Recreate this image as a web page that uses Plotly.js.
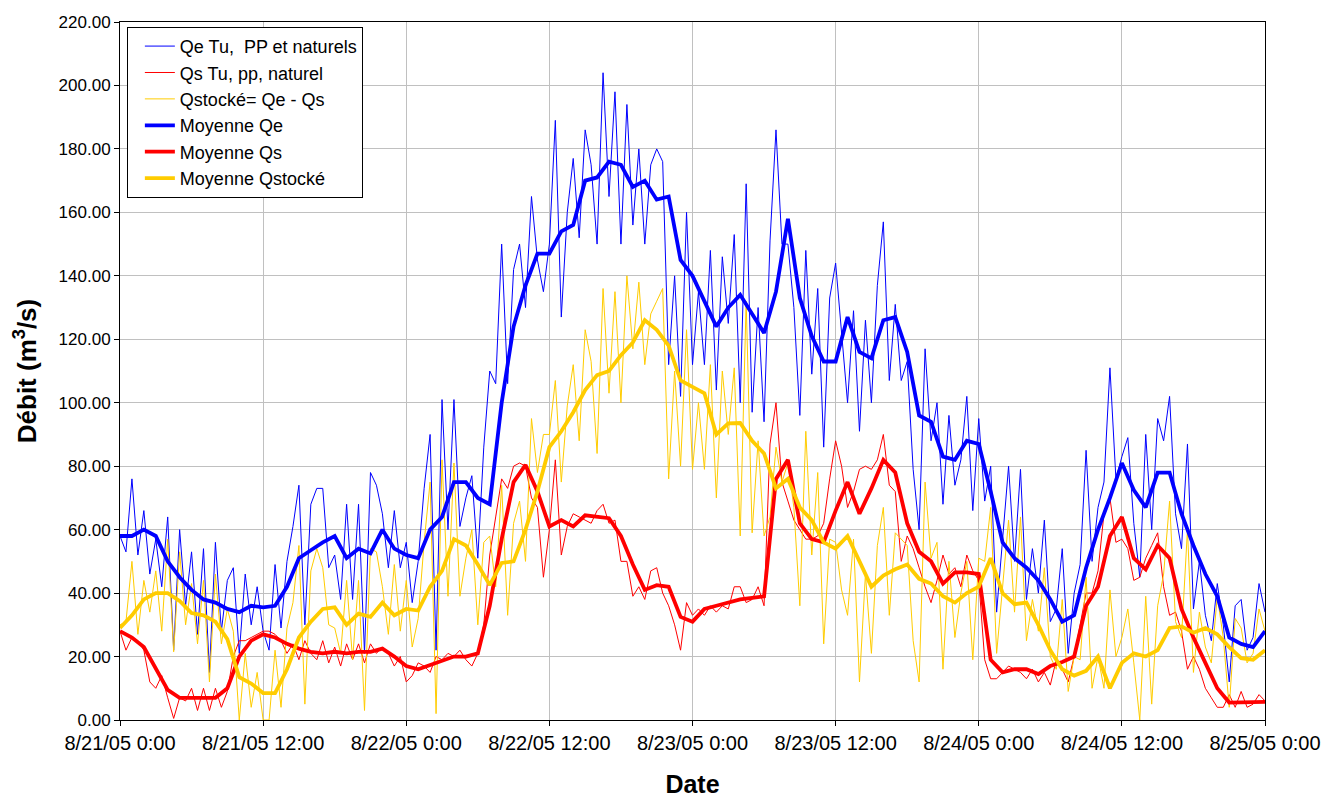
<!DOCTYPE html>
<html>
<head>
<meta charset="utf-8">
<script src="https://cdn.plot.ly/plotly-3.0.1.min.js"></script>
<style>html,body{margin:0;padding:0;background:#fff;}#chart{width:1325px;height:798px;}</style>
</head>
<body>
<div id="chart"></div>
<script>
// ---- DATA (hours since 8/21/05 0:00) ----
const stepThin = 0.5;   // half-hourly raw values
const stepMean = 1;     // hourly moving-average values

const tickHours = [0, 12, 24, 36, 48, 60, 72, 84, 96];
const tickLabels = ["8/21/05 0:00", "8/21/05 12:00", "8/22/05 0:00", "8/22/05 12:00",
  "8/23/05 0:00", "8/23/05 12:00", "8/24/05 0:00", "8/24/05 12:00", "8/25/05 0:00"];

const seriesNames = ["Qe Tu,\u00a0 PP et naturels", "Qs Tu, pp, naturel", "Qstocké= Qe - Qs",
  "Moyenne Qe", "Moyenne Qs", "Moyenne Qstocké"];

const qeRaw = [
  58,53,76,52,66,46,57,42,64,22,60,36,53,27,54,15,56,28,44,48,21,46,30,42,28,
  22,49,29,50,61,74,30,68,73,73,48,52,38,68,38,68,21,78,74,65,48,66,48,56,
  37,50,73,90,22,101,60,101,61,70,77,51,86,110,106,150,106,142,150,130,165,145,135,150,
  189,127,160,177,152,186,175,150,204,165,198,150,194,156,180,150,175,180,176,112,140,102,160,112,
  135,112,148,104,146,125,153,100,169,97,130,94,151,186,150,150,130,96,148,109,136,86,133,144,
  121,100,129,91,126,100,137,157,107,131,107,113,79,60,117,88,100,68,96,74,82,102,66,95,
  69,80,34,57,80,50,79,38,54,40,63,31,35,54,21,40,49,85,50,67,75,111,76,83,
  89,62,45,90,60,95,88,102,65,54,87,35,50,33,25,43,30,12,36,38,22,26,43,34
];

const qsRaw = [
  28,22,26,25,22,12,10,14,7,0.5,7,6,10,3,10,3,10,4,9,20,25,25,26,27,28,
  28,27,25,21,24,19,25,21,19,25,18,23,17,24,19,24,18,24,21,23,21,17,20,12,
  14,18,17,15,20,19,21,20,22,19,17,21,30,52,64,76,73,80,81,80,70,67,45,60,
  82,52,61,65,64,63,62,66,68,62,63,50,50,39,42,38,47,48,40,36,30,22,37,33,
  35,33,36,34,36,35,42,42,37,38,42,36,87,100,75,69,63,60,57,57,58,62,76,88,
  80,67,72,79,80,79,82,90,74,72,50,58,54,48,42,37,44,52,46,48,42,52,47,44,
  19,13,13,15,17,16,15,13,16,12,15,11,19,16,12,20,30,40,40,47,65,70,56,57,
  54,44,45,51,55,59,42,33,34,28,16,20,16,10,7,4,4,8,4,9,4,5,8,6
];

const qstRaw = [
  30,31,50,27,44,34,47,28,57,21.5,53,30,43,24,44,12,46,24,35,28,0,21,4,15,0,
  0,22,4,29,37,55,5,47,54,48,30,29,21,44,19,44,3,54,53,42,27,49,28,44,
  23,32,56,75,2,82,39,81,39,51,60,30,56,58,42,74,33,62,69,50,95,78,90,90,
  107,75,99,112,88,123,113,84,136,103,135,100,140,117,138,112,128,132,136,76,110,80,123,79,
  100,79,112,70,110,90,111,58,132,59,88,58,64,86,75,81,67,36,91,52,78,24,57,56,
  41,33,57,12,46,21,55,67,33,59,57,55,25,12,75,51,56,16,50,26,40,50,19,51,
  50,67,21,42,63,34,64,25,38,28,48,20,16,38,9,20,19,45,10,20,10,41,20,26,
  35,18,0,39,5,36,46,69,31,26,60,15,34,23,18,39,26,4,32,29,18,21,35,28
];

const qeMean = [
  58,58,60,58,50,45,41,38,37,35,34,36,35.5,
  36,42,51,53.5,56,58,51,54,52.5,60,54,52,
  51,60,64,75,75,70,68,100,124,137,147,147,
  154,156,170,171,176,175,168,170,164,165,145,140,
  132,124,130,134,128,122,135,158,133,121,113,113,
  127,116,114,126,127,116,96,94,83,82,88,87,
  72,56,51,48,44,38,31,33,48,60,70,81,
  72.5,67,78,78,65,55,46,39,26,24,23,28
];

const qsMean = [
  28,26,23,16,9.5,7,7,7,7,10,20,25,27,
  26,24,22.5,21.5,21,21.5,21,21.5,21.5,22.5,20,17,
  16,17.3,18.5,20,20,21,36,57,75,80.4,72,61,
  63,61,64.5,64,63.6,58,49,41,42.5,42,32.5,31,
  35,36,37,38,38.5,39,76,82,62,57,56,66,
  75,65,73,82,78,62,53,50,43,46.5,46.5,46,
  19,15,16,16,14.5,17,18.3,20,36,42,58,64,
  51,47.5,55,51,35,26,18,10,5.5,5.5,5.5,5.7
];

const qstMean = [
  29,33,38,40,40,37.5,33.7,33,31,25.5,13.5,11.5,8.5,
  8.5,16,26,31,35,35.5,30,33.5,32.5,37,33,35,
  34.5,42,47,57,55,49,42.5,49.5,50,60,72,86,
  91,97,104,108.7,110,115,119,126,123,118,107,105,
  103,90,93.5,93.6,88,84,73,76,67,63,56,54,
  58,50,42,45.5,47.5,49,44.5,43,39,37,40,42,
  51,40,36.5,37,30,22,16,14,15.5,20,10,18,
  21,20,22,29,29.5,27.5,29,27,23,19.5,19,22
];

// ---- CHART ----
const FONT = "Liberation Sans, Arial, sans-serif";
const xs = (arr, step) => arr.map((_, i) => i * step);

const mk = (y, step, name, color, width, g) => ({
  x: xs(y, step), y: y, type: "scatter", mode: "lines", name: name,
  legendgroup: g, line: { color: color, width: width }, hoverinfo: "x+y"
});

const traces = [
  mk(qeRaw, stepThin, seriesNames[0], "#0000FF", 1, "a"),
  mk(qsRaw, stepThin, seriesNames[1], "#FF0000", 1, "b"),
  mk(qstRaw, stepThin, seriesNames[2], "#FFCC00", 1, "c"),
  mk(qeMean, stepMean, seriesNames[3], "#0000FF", 3.8, "d"),
  mk(qsMean, stepMean, seriesNames[4], "#FF0000", 3.8, "e"),
  mk(qstMean, stepMean, seriesNames[5], "#FFCC00", 3.8, "f")
];

const layout = {
  width: 1325, height: 798,
  margin: { l: 120, r: 60, t: 22, b: 78 },
  paper_bgcolor: "#ffffff", plot_bgcolor: "#ffffff",
  font: { family: FONT, size: 17, color: "#000" },
  showlegend: true,
  legend: {
    x: 0.006, y: 0.993, xanchor: "left", yanchor: "top",
    bgcolor: "#ffffff", bordercolor: "#000000", borderwidth: 1,
    font: { family: FONT, size: 18, color: "#000" },
    tracegroupgap: 7.5, traceorder: "normal", indentation: 12
  },
  xaxis: {
    range: [0, 96], tickmode: "array", tickvals: tickHours, ticktext: tickLabels,
    showgrid: true, gridcolor: "#c0c0c0", gridwidth: 1,
    showline: true, linecolor: "#000", linewidth: 1, mirror: true,
    ticks: "outside", ticklen: 5, tickcolor: "#000", automargin: false,
    tickfont: { family: FONT, size: 20 }, zeroline: false,
    title: { text: "Date", font: { family: FONT, size: 25, weight: "bold" }, standoff: 26 }
  },
  yaxis: {
    range: [0, 220], dtick: 20, tick0: 0, tickformat: ".2f",
    showgrid: true, gridcolor: "#c0c0c0", gridwidth: 1,
    showline: true, linecolor: "#000", linewidth: 1, mirror: true,
    ticks: "outside", ticklen: 5, tickcolor: "#000", automargin: false,
    tickfont: { family: FONT, size: 17 }, zeroline: false,
    title: { text: "Débit (m<sup>3</sup>/s)", font: { family: FONT, size: 26, weight: "bold" }, standoff: 14 }
  }
};

Plotly.newPlot("chart", traces, layout, { displayModeBar: false, responsive: false });
</script>
</body>
</html>
